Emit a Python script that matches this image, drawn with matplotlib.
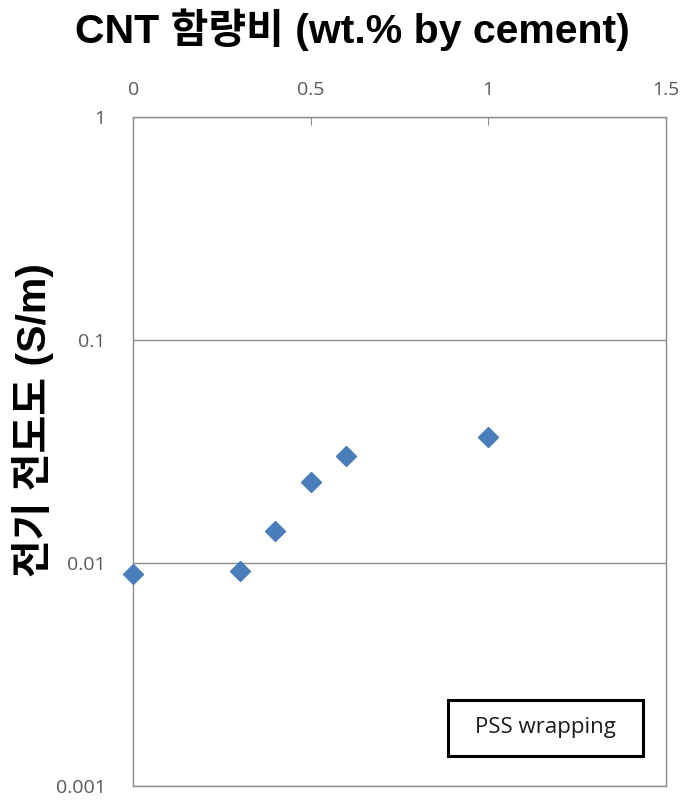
import matplotlib.pyplot as plt
from matplotlib.patches import Rectangle

plt.rcParams['font.family'] = ['Liberation Sans', 'Noto Sans CJK KR', 'DejaVu Sans']

# CNT 함량비 (wt.%) / 전기 전도도 (S/m)
cnt = [0.0, 0.3, 0.4, 0.5, 0.6, 1.0]
cond = [0.0089, 0.0092, 0.0139, 0.0229, 0.0302, 0.0367]
xticks = [0, 0.5, 1, 1.5]
xticklabels = ['0', '0.5', '1', '1.5']
yticks = [0.001, 0.01, 0.1, 1]
yticklabels = ['0.001', '0.01', '0.1', '1']

gray = '#8c8c8c'
tickcol = '#595959'

fig = plt.figure(figsize=(6.85, 8.01), dpi=100)
ax = fig.add_axes([0.1946, 0.0191, 0.9718 - 0.1946, 0.8543 - 0.0191])

ax.plot(cnt, cond, linestyle='none', marker='D', markersize=10,
        color='#4a7ebb', clip_on=False, zorder=3)

ax.set_yscale('log')
ax.set_xlim(0, 1.5)
ax.set_ylim(0.001, 1)
ax.xaxis.tick_top()
ax.set_xticks(xticks)
ax.set_xticklabels(xticklabels, family=['Open Sans'])
ax.set_yticks(yticks)
ax.set_yticklabels(yticklabels, family=['Open Sans'])
ax.minorticks_off()
ax.tick_params(axis='x', direction='in', length=6, color=gray, labelsize=14,
               labelcolor=tickcol, pad=13)
ax.tick_params(axis='y', length=0, labelsize=14, labelcolor=tickcol, pad=20)
ax.grid(True, axis='y', color=gray, linewidth=1)
for s in ax.spines.values():
    s.set_color(gray)
    s.set_linewidth(1)

# 범례 상자
ax.add_patch(Rectangle((0.5905, 0.0449), 0.3674, 0.0833, transform=ax.transAxes,
                       facecolor='white', edgecolor='black', linewidth=2.2, zorder=4))
ax.text(0.5905 + 0.3674 / 2, 0.0449 + 0.0833 / 2, 'PSS wrapping', transform=ax.transAxes,
        ha='center', va='center', fontsize=16, family=['Open Sans'], color='#1a1a1a', zorder=5)

fig.text(0.514, 1 - 43 / 801, 'CNT 함량비 (wt.% by cement)', ha='center', va='baseline',
         fontsize=29.5, fontweight='bold')
fig.text(33 / 685, 1 - 420 / 801, '전기 전도도 (S/m)', rotation=90, ha='center', va='center',
         fontsize=29.5, fontweight='bold')

fig.savefig('out.png', dpi=100)
